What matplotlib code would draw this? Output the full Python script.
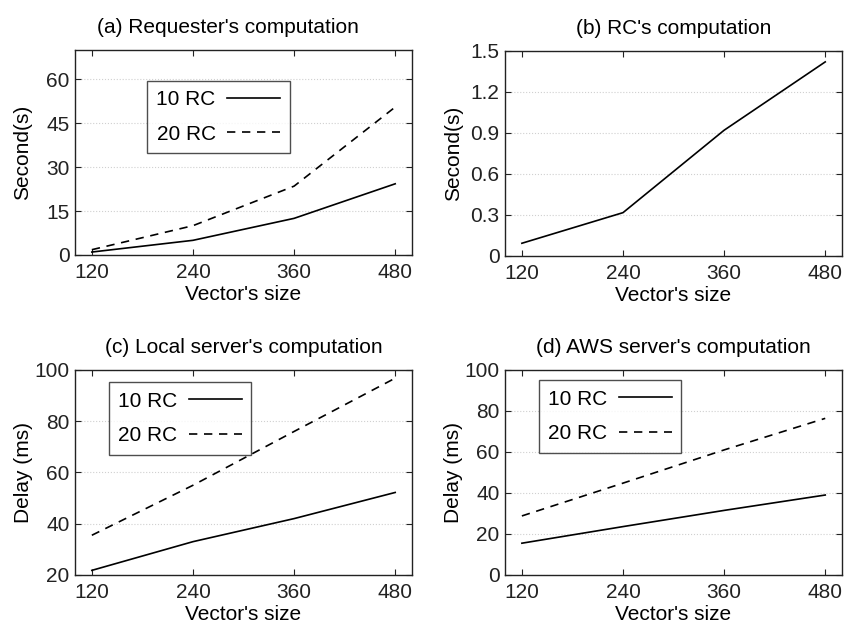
import matplotlib
matplotlib.use('Agg')
import matplotlib.pyplot as plt

plt.rcParams['font.family'] = ['Liberation Sans', 'DejaVu Sans']
plt.rcParams['font.size'] = 15

sizes = [120, 240, 360, 480]

# (a) requester's computation, seconds
req_10rc = [1.0, 5.0, 12.5, 24.3]
req_20rc = [1.8, 10.0, 23.5, 50.5]

# (b) RC's computation, seconds
rc_time = [0.093, 0.317, 0.92, 1.42]

# (c) local server's computation, ms
local_10rc = [21.8, 33.0, 42.0, 52.2]
local_20rc = [35.5, 55.0, 76.0, 96.8]

# (d) AWS server's computation, ms
aws_10rc = [15.5, 23.6, 31.5, 39.0]
aws_20rc = [28.8, 44.8, 61.0, 76.4]

fig = plt.figure(figsize=(8.57, 6.26), dpi=100)
ax_a = fig.add_axes([0.0875, 0.5927, 0.3933, 0.3275])
ax_b = fig.add_axes([0.5893, 0.5911, 0.3933, 0.3275])
ax_c = fig.add_axes([0.0875, 0.0815, 0.3933, 0.3275])
ax_d = fig.add_axes([0.5893, 0.0815, 0.3933, 0.3275])


def style(ax, title, ylabel, ylim, yticks, yticklabels=None, title_x=0.5):
    ax.set_title(title, fontsize=15, pad=12, x=title_x)
    ax.set_xlabel("Vector's size", labelpad=2)
    ax.set_ylabel(ylabel)
    ax.yaxis.set_label_coords(-0.126, 0.5)
    ax.set_xlim(100, 500)
    ax.set_xticks(sizes)
    ax.set_ylim(*ylim)
    ax.set_yticks(yticks)
    if yticklabels is not None:
        ax.set_yticklabels(yticklabels)
    ax.tick_params(direction='in', top=True, right=True, length=4, width=0.8,
                   colors='#222222', labelsize=15)
    ax.tick_params(axis='x', pad=6)
    ax.tick_params(axis='y', pad=4)
    ax.yaxis.grid(True, linestyle=':', color='#d0d0d0', linewidth=0.8)
    ax.set_axisbelow(True)
    for s in ax.spines.values():
        s.set_linewidth(1.0)
        s.set_color('#222222')


def legend(ax, x, y):
    leg = ax.legend(loc='upper left', bbox_to_anchor=(x, y), borderaxespad=0,
                    markerfirst=False, fancybox=False, frameon=True,
                    edgecolor='#222222', handlelength=2.55, borderpad=0.45,
                    labelspacing=0.75, handletextpad=0.55, fontsize=15)
    leg.get_frame().set_linewidth(1.0)


ax_a.plot(sizes, req_10rc, color='black', lw=1.2, label='10 RC')
ax_a.plot(sizes, req_20rc, color='black', lw=1.2, ls=(0, (5, 4)), label='20 RC')
style(ax_a, "(a) Requester's computation", 'Second(s)', (0, 70), [0, 15, 30, 45, 60],
      title_x=0.453)
legend(ax_a, 0.214, 0.85)

ax_b.plot(sizes, rc_time, color='black', lw=1.2)
style(ax_b, "(b) RC's computation", 'Second(s)', (0, 1.5),
      [0, 0.3, 0.6, 0.9, 1.2, 1.5], ['0', '0.3', '0.6', '0.9', '1.2', '1.5'])

ax_c.plot(sizes, local_10rc, color='black', lw=1.2, label='10 RC')
ax_c.plot(sizes, local_20rc, color='black', lw=1.2, ls=(0, (5, 4)), label='20 RC')
style(ax_c, "(c) Local server's computation", 'Delay (ms)', (20, 100), [20, 40, 60, 80, 100])
legend(ax_c, 0.10, 0.94)

ax_d.plot(sizes, aws_10rc, color='black', lw=1.2, label='10 RC')
ax_d.plot(sizes, aws_20rc, color='black', lw=1.2, ls=(0, (5, 4)), label='20 RC')
style(ax_d, "(d) AWS server's computation", 'Delay (ms)', (0, 100), [0, 20, 40, 60, 80, 100])
legend(ax_d, 0.10, 0.95)

plt.savefig('out.png', dpi=100)
